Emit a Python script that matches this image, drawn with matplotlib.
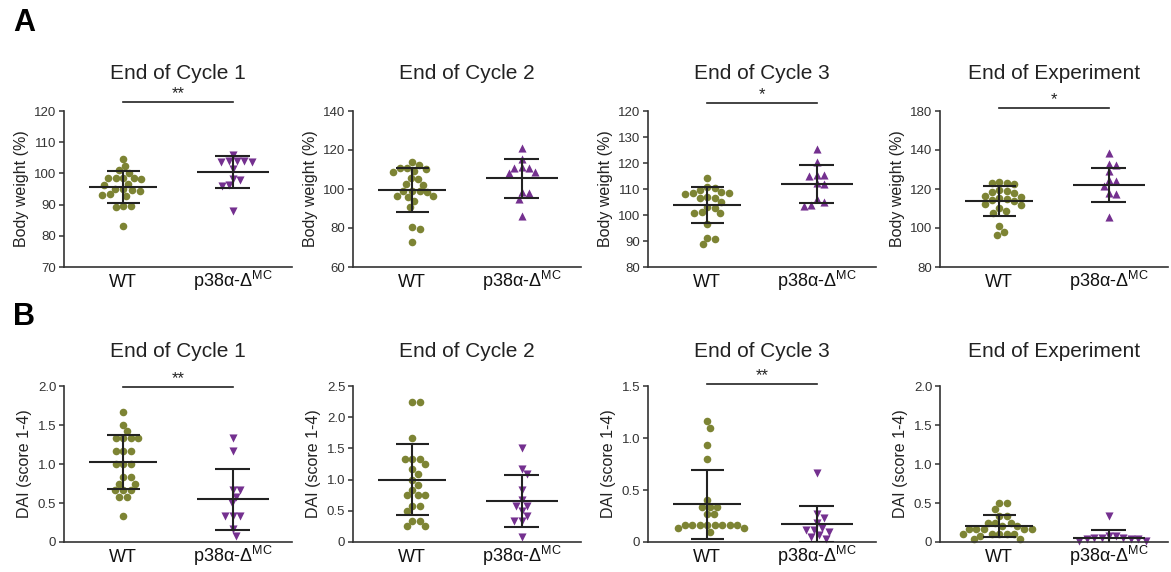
import numpy as np
import matplotlib
matplotlib.use("Agg")
import matplotlib.pyplot as plt
import matplotlib.transforms as mtransforms

plt.rcParams["font.family"] = ["Liberation Sans", "DejaVu Sans"]
plt.rcParams["mathtext.fontset"] = "custom"
plt.rcParams["mathtext.rm"] = "Liberation Sans"

# Datos
grupos = ["WT", "p38α-Δ$^{\\mathrm{MC}}$"]
titulos = ["End of Cycle 1", "End of Cycle 2", "End of Cycle 3", "End of Experiment"]

# Fila A: peso corporal (%)
peso_wt = [
    [104.6, 102.3, 101.0, 100.2, 98.4, 98.4, 98.4, 98.4, 98.2, 96.6, 96.4,
     95.0, 95.0, 94.6, 94.4, 93.4, 93.2, 92.8, 89.4, 89.4, 89.2, 83.0],
    [114.0, 112.5, 111.0, 110.8, 110.5, 109.0, 108.8, 105.5, 105.3, 102.5,
     102.3, 99.2, 99.0, 98.8, 98.6, 96.3, 96.2, 96.0, 93.7, 90.6, 80.5, 79.6, 72.8],
    [114.4, 110.6, 110.2, 109.8, 108.8, 108.5, 108.3, 108.0, 106.8, 106.6,
     106.4, 105.0, 103.0, 102.8, 101.0, 100.9, 100.7, 96.7, 91.2, 90.8, 88.7],
    [123.5, 123.0, 123.0, 122.5, 119.5, 119.0, 118.5, 118.0, 116.5, 116.0, 115.5,
     115.0, 114.5, 114.0, 112.5, 112.0, 110.0, 108.5, 107.5, 101.0, 98.0, 96.5],
]
peso_ko = [
    [106.0, 104.0, 104.0, 104.0, 103.8, 103.6, 101.5, 98.3, 97.8, 96.2, 96.0, 87.8],
    [121.0, 115.5, 111.5, 111.0, 111.0, 108.5, 108.0, 98.5, 98.0, 95.0, 86.0],
    [125.5, 120.5, 115.5, 115.2, 115.0, 112.5, 112.0, 106.0, 105.0, 104.0, 103.5],
    [138.5, 133.0, 132.5, 129.0, 124.5, 124.0, 121.5, 118.0, 117.5, 105.5],
]
peso_media_wt = [95.6, 99.3, 103.9, 113.9]
peso_sd_wt = [5.1, 11.3, 7.0, 7.7]
peso_media_ko = [100.4, 105.4, 111.9, 121.9]
peso_sd_ko = [5.2, 10.2, 7.2, 8.7]

# Fila B: DAI (score 1-4)
dai_wt = [
    [1.667, 1.5, 1.417, 1.333, 1.333, 1.333, 1.333, 1.167, 1.167, 1.167, 1.0, 1.0,
     1.0, 0.833, 0.833, 0.75, 0.75, 0.667, 0.667, 0.667, 0.583, 0.583, 0.333],
    [2.25, 2.25, 1.667, 1.333, 1.333, 1.333, 1.25, 1.167, 1.083, 1.0, 0.917,
     0.833, 0.75, 0.75, 0.75, 0.583, 0.583, 0.5, 0.333, 0.333, 0.25, 0.25],
    [1.167, 1.1, 0.933, 0.8, 0.4, 0.333, 0.333, 0.333, 0.267, 0.267, 0.167, 0.167,
     0.167, 0.167, 0.167, 0.167, 0.167, 0.167, 0.133, 0.133, 0.1],
    [0.5, 0.5, 0.417, 0.333, 0.333, 0.25, 0.25, 0.25, 0.2, 0.2, 0.167, 0.167, 0.167,
     0.167, 0.167, 0.1, 0.1, 0.1, 0.1, 0.1, 0.083, 0.033, 0.033],
]
dai_ko = [
    [1.333, 1.167, 0.667, 0.667, 0.583, 0.5, 0.333, 0.333, 0.333, 0.167, 0.083],
    [1.5, 1.167, 1.083, 0.833, 0.667, 0.583, 0.583, 0.5, 0.417, 0.333, 0.333, 0.083],
    [0.667, 0.267, 0.233, 0.183, 0.133, 0.117, 0.117, 0.1, 0.067, 0.05, 0.033],
    [0.333, 0.083, 0.083, 0.05, 0.05, 0.05, 0.033, 0.033, 0.033, 0.017, 0.017],
]
dai_media_wt = [1.024, 1.0, 0.362, 0.206]
dai_sd_wt = [0.35, 0.57, 0.33, 0.14]
dai_media_ko = [0.55, 0.66, 0.175, 0.056]
dai_sd_ko = [0.39, 0.42, 0.175, 0.10]

# Ejes y (la figura original trae etiquetas repetidas, se respetan)
peso_ticks = [np.arange(70, 121, 10), np.arange(60, 141, 20),
              np.arange(80, 141, 10), np.arange(80, 161, 20)]
peso_etiquetas = [["70", "80", "90", "100", "110", "120"],
                  ["60", "80", "100", "120", "140"],
                  ["80", "90", "100", "110", "120", "130", "120"],
                  ["80", "100", "120", "140", "180"]]
dai_ticks = [[0, 0.5, 1.0, 1.5, 2.0], [0, 0.5, 1.0, 1.5, 2.0, 2.5],
             [0, 0.5, 1.0, 1.5], [0, 0.5, 1.0, 1.5, 2.0]]
dai_etiquetas = [["0", "0.5", "1.0", "1.5", "2.0"],
                 ["0", "0.5", "1.0", "1.5", "2.0", "2.5"],
                 ["0", "0.5", "1.0", "1.5"],
                 ["0", "0.5", "1.0", "1.5", "2.0"]]
peso_signif = ["**", "", "*", "*"]
dai_signif = ["**", "", "**", ""]

verde = "#7d8434"
morado = "#74308f"
negro = "#222222"

W, H = 1171, 572
fig = plt.figure(figsize=(W / 100, H / 100), dpi=100)

izq = [64, 353, 648, 940]
ancho = 228
alto = 156


def enjambre(ax, x0, valores, diam=7.4):
    # reparte los puntos a lo ancho para que no se tapen (en pixeles)
    t = ax.transData
    px_x = t.transform((1, 0))[0] - t.transform((0, 0))[0]
    ys = np.array([t.transform((0, v))[1] for v in valores])
    pasos = [0.0]
    for k in range(1, 300):
        pasos += [k * 0.5, -k * 0.5]
    colocados = []
    xs = np.zeros(len(valores))
    for i in np.argsort(-np.asarray(valores), kind="stable"):
        for dx in pasos:
            if all((dx - a) ** 2 + (ys[i] - b) ** 2 >= diam ** 2 for a, b in colocados):
                break
        colocados.append((dx, ys[i]))
        xs[i] = x0 + dx / px_x
    return xs


def panel(ax, wt, ko, m_wt, s_wt, m_ko, s_ko, ticks, etiquetas, ylabel, marca, signif, ysig):
    ax.set_xlim(-0.54, 1.54)
    ax.set_ylim(ticks[0], ticks[-1])
    ax.set_yticks(ticks)
    ax.set_yticklabels(etiquetas)
    ax.set_xticks([0, 1])
    ax.set_xticklabels(grupos, fontsize=13)
    # misma linea base para WT y la etiqueta con superindice
    for lbl in ax.get_xticklabels():
        lbl.set_verticalalignment("baseline")
    ax.tick_params(axis="x", length=0, pad=14.5, colors="#111111")
    ax.tick_params(axis="y", length=3.5, width=1.1, pad=2, labelsize=9.5,
                   colors="#333333", labelcolor="#333333")
    for lado in ["top", "right"]:
        ax.spines[lado].set_visible(False)
    for lado in ["left", "bottom"]:
        ax.spines[lado].set_linewidth(1.2)
        ax.spines[lado].set_color("#333333")
    ax.set_ylabel(ylabel, fontsize=11.5, color="#222222", labelpad=4)

    ax.scatter(enjambre(ax, 0, wt), wt, s=30, marker="o", color=verde,
               linewidths=0, zorder=2, clip_on=False)
    ax.scatter(enjambre(ax, 1, ko), ko, s=34, marker=marca, color=morado,
               linewidths=0, zorder=2, clip_on=False)

    for x, m, s, w1, w2 in [(0, m_wt, s_wt, 0.31, 0.15), (1, m_ko, s_ko, 0.33, 0.16)]:
        ax.hlines(m, x - w1, x + w1, color=negro, lw=1.5, zorder=3)
        ax.hlines([m - s, m + s], x - w2, x + w2, color=negro, lw=1.5, zorder=3)
        ax.vlines(x, m - s, m + s, color=negro, lw=1.5, zorder=3)

    if signif:
        tr = mtransforms.blended_transform_factory(ax.transData, ax.transAxes)
        ax.plot([0, 1], [ysig, ysig], color=negro, lw=1.2, transform=tr, clip_on=False)
        ax.text(0.5, ysig + 0.005, signif, transform=tr, ha="center", va="bottom",
                fontsize=12, color=negro)


sig_y_a = [1.058, 0, 1.051, 1.019]
sig_y_b = [0.995, 0, 1.013, 0]
marcas_a = ["v", "^", "^", "^"]

for j in range(4):
    ax = fig.add_axes([izq[j] / W, 1 - 267 / H, ancho / W, alto / H])
    panel(ax, peso_wt[j], peso_ko[j], peso_media_wt[j], peso_sd_wt[j],
          peso_media_ko[j], peso_sd_ko[j], peso_ticks[j], peso_etiquetas[j],
          "Body weight (%)", marcas_a[j], peso_signif[j], sig_y_a[j])
    ax.set_title(titulos[j], fontsize=15, pad=23, color="#222222")

    ax = fig.add_axes([izq[j] / W, 1 - 542 / H, ancho / W, alto / H])
    panel(ax, dai_wt[j], dai_ko[j], dai_media_wt[j], dai_sd_wt[j],
          dai_media_ko[j], dai_sd_ko[j], dai_ticks[j], dai_etiquetas[j],
          "DAI (score 1-4)", "v", dai_signif[j], sig_y_b[j])
    ax.set_title(titulos[j], fontsize=15, pad=21, color="#222222")

fig.text(13 / W, 1 - 8 / H, "A", fontsize=22, fontweight="bold", va="top")
fig.text(13 / W, 1 - 302 / H, "B", fontsize=22, fontweight="bold", va="top")

fig.savefig("out.png", dpi=100)
